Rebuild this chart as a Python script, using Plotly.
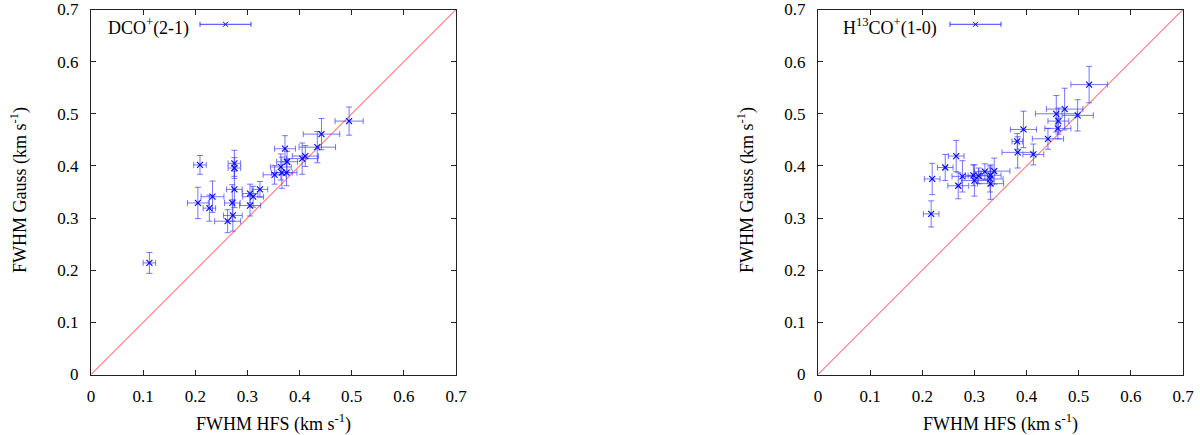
import plotly.graph_objects as go

W, H = 1200, 435

# ---- DCO+(2-1) panel data ----
dco_hfs = [0.112, 0.209, 0.275, 0.275, 0.275, 0.233, 0.205, 0.227, 0.271, 0.272,
           0.262, 0.305, 0.311, 0.324, 0.305, 0.372, 0.364, 0.352, 0.366, 0.375,
           0.376, 0.405, 0.411, 0.434, 0.442, 0.495]
dco_hfs_err = [0.012, 0.012, 0.012, 0.012, 0.015, 0.022, 0.020, 0.012, 0.015, 0.018,
               0.025, 0.015, 0.020, 0.015, 0.020, 0.020, 0.020, 0.022, 0.020, 0.020,
               0.020, 0.030, 0.025, 0.035, 0.035, 0.027]
dco_gauss = [0.214, 0.402, 0.405, 0.396, 0.355, 0.341, 0.329, 0.319, 0.329, 0.305,
             0.294, 0.347, 0.341, 0.355, 0.324, 0.433, 0.398, 0.383, 0.387, 0.387,
             0.408, 0.414, 0.419, 0.436, 0.461, 0.486]
dco_gauss_err = [0.020, 0.018, 0.025, 0.020, 0.035, 0.030, 0.030, 0.025, 0.035, 0.030,
                 0.022, 0.018, 0.020, 0.015, 0.020, 0.025, 0.025, 0.018, 0.030, 0.025,
                 0.020, 0.030, 0.020, 0.030, 0.030, 0.027]

# ---- H13CO+(1-0) panel data ----
h13_hfs = [0.520, 0.473, 0.457, 0.498, 0.461, 0.460, 0.394, 0.441, 0.382, 0.383,
           0.413, 0.338, 0.320, 0.331, 0.308, 0.298, 0.330, 0.300, 0.331, 0.277,
           0.269, 0.265, 0.244, 0.219, 0.217]
h13_hfs_err = [0.035, 0.035, 0.040, 0.030, 0.020, 0.025, 0.025, 0.030, 0.010, 0.030,
               0.020, 0.030, 0.020, 0.020, 0.020, 0.015, 0.025, 0.025, 0.025, 0.020,
               0.020, 0.015, 0.015, 0.015, 0.015]
h13_gauss = [0.556, 0.509, 0.500, 0.497, 0.486, 0.472, 0.470, 0.452, 0.447, 0.426,
             0.422, 0.390, 0.389, 0.382, 0.381, 0.382, 0.375, 0.372, 0.366, 0.380,
             0.362, 0.419, 0.397, 0.375, 0.308]
h13_gauss_err = [0.035, 0.040, 0.035, 0.030, 0.025, 0.020, 0.035, 0.020, 0.015, 0.030,
                 0.020, 0.025, 0.015, 0.020, 0.015, 0.020, 0.025, 0.030, 0.030, 0.030,
                 0.025, 0.030, 0.025, 0.030, 0.025]

# equality line
line_x = [0, 0.7]
line_y = [0, 0.7]

tick_vals = [0, 0.1, 0.2, 0.3, 0.4, 0.5, 0.6, 0.7]
tick_text = ["0", "0.1", "0.2", "0.3", "0.4", "0.5", "0.6", "0.7"]

legend_labels = ["DCO<sup>+</sup>(2-1)", "H<sup>13</sup>CO<sup>+</sup>(1-0)"]
x_title = "FWHM HFS (km s<sup>-1</sup>)"
y_title = "FWHM Gauss (km s<sup>-1</sup>)"

FONT = "Liberation Serif, Times New Roman, serif"
ERR_COLOR = "rgba(60,60,255,0.7)"
PT_COLOR = "rgb(0,0,255)"

# body margin is removed by the post script, so no page offset
OFF = 0


def px(x):
    return (x - OFF) / W


def py(y):
    return 1 - (y - OFF) / H


# panel pixel geometry (in screenshot pixels)
panels = [(91, 456), (818, 1183)]
top, bottom = 9.5, 374.5

fig = go.Figure()

datasets = [
    (dco_hfs, dco_hfs_err, dco_gauss, dco_gauss_err),
    (h13_hfs, h13_hfs_err, h13_gauss, h13_gauss_err),
]

for i, (xv, xe, yv, ye) in enumerate(datasets):
    xa = "x" if i == 0 else "x2"
    ya = "y" if i == 0 else "y2"
    fig.add_trace(go.Scatter(
        x=line_x, y=line_y, mode="lines", xaxis=xa, yaxis=ya,
        line=dict(color="rgb(255,60,60)", width=1), showlegend=False,
        hoverinfo="skip"))
    fig.add_trace(go.Scatter(
        x=xv, y=yv, mode="markers", xaxis=xa, yaxis=ya,
        error_x=dict(type="data", array=xe, color=ERR_COLOR, thickness=1, width=3),
        error_y=dict(type="data", array=ye, color=ERR_COLOR, thickness=1, width=3),
        marker=dict(symbol="x-thin", size=6, line=dict(color=PT_COLOR, width=1.1),
                    color=PT_COLOR),
        showlegend=False))

axis_common = dict(
    range=[0, 0.7], tickvals=tick_vals, ticktext=tick_text, automargin=False,
    ticklabeloverflow="allow",
    showgrid=False, zeroline=False, showline=True, linecolor="#222", linewidth=1,
    mirror="ticks", ticks="inside", ticklen=5, tickcolor="#222", tickwidth=1,
    tickfont=dict(family=FONT, size=17, color="black"),
)

yd = [py(bottom), py(top)]
fig.update_layout(
    width=W, height=H,
    margin=dict(l=0, r=0, t=0, b=0, autoexpand=False),
    paper_bgcolor="white", plot_bgcolor="white",
    showlegend=False,
    font=dict(family=FONT, size=17, color="black"),
    xaxis=dict(domain=[px(panels[0][0]), px(panels[0][1])], anchor="y",
               ticklabelstandoff=6, **axis_common),
    yaxis=dict(domain=yd, anchor="x", ticklabelstandoff=8, **axis_common),
    xaxis2=dict(domain=[px(panels[1][0]), px(panels[1][1])], anchor="y2",
                ticklabelstandoff=6, **axis_common),
    yaxis2=dict(domain=yd, anchor="x2", ticklabelstandoff=8, **axis_common),
)

annotations = []
shapes = []
key_offsets = [(106, 200, 251), (841, 950, 1001)]
for i, (x0, x1) in enumerate(panels):
    cx = (x0 + x1) / 2
    annotations.append(dict(
        text=x_title, x=px(cx), y=py(423), xref="paper", yref="paper",
        xanchor="center", yanchor="middle", showarrow=False,
        font=dict(family=FONT, size=18, color="black")))
    annotations.append(dict(
        text=y_title, x=px(x0 - 72), y=py(190), xref="paper", yref="paper",
        xanchor="center", yanchor="middle", showarrow=False, textangle=-90,
        font=dict(family=FONT, size=18, color="black")))
    tx, lx0, lx1 = key_offsets[i]
    annotations.append(dict(
        text=legend_labels[i], x=px(tx), y=py(27), xref="paper", yref="paper",
        xanchor="left", yanchor="middle", showarrow=False,
        font=dict(family=FONT, size=18, color="black")))
    ly = 24.3
    kc = "rgb(60,60,255)"
    shapes.append(dict(type="line", xref="paper", yref="paper",
                       x0=px(lx0), x1=px(lx1), y0=py(ly), y1=py(ly),
                       line=dict(color=kc, width=1)))
    for ex in (lx0, lx1):
        shapes.append(dict(type="line", xref="paper", yref="paper",
                           x0=px(ex), x1=px(ex), y0=py(ly - 2.5), y1=py(ly + 2.5),
                           line=dict(color=kc, width=1)))
    mx = (lx0 + lx1) / 2
    shapes.append(dict(type="line", xref="paper", yref="paper",
                       x0=px(mx - 2.5), x1=px(mx + 2.5), y0=py(ly - 2.5), y1=py(ly + 2.5),
                       line=dict(color=PT_COLOR, width=1)))
    shapes.append(dict(type="line", xref="paper", yref="paper",
                       x0=px(mx - 2.5), x1=px(mx + 2.5), y0=py(ly + 2.5), y1=py(ly - 2.5),
                       line=dict(color=PT_COLOR, width=1)))

fig.update_layout(annotations=annotations, shapes=shapes)

fig.write_html("out.html",
               config={"displayModeBar": False, "staticPlot": True},
               post_script="document.body.style.margin='0';document.body.style.overflow='hidden';")
